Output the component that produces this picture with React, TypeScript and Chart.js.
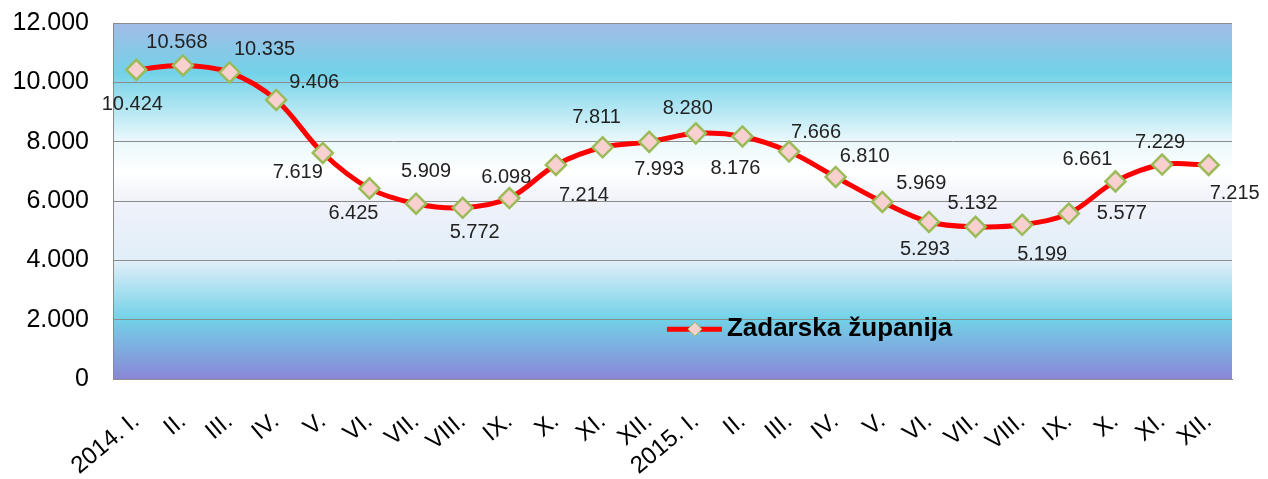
import React, { useEffect, useRef } from "react";
import { Chart, registerables } from "chart.js";

Chart.register(...registerables);

const categories = [
  "2014. I.", "II.", "III.", "IV.", "V.", "VI.", "VII.", "VIII.", "IX.", "X.", "XI.", "XII.",
  "2015. I.", "II.", "III.", "IV.", "V.", "VI.", "VII.", "VIII.", "IX.", "X.", "XI.", "XII.",
];

const seriesName = "Zadarska županija";

const values = [
  10424, 10568, 10335, 9406, 7619, 6425, 5909, 5772, 6098, 7214, 7811, 7993,
  8280, 8176, 7666, 6810, 5969, 5293, 5132, 5199, 5577, 6661, 7229, 7215,
];

const yTicks = [0, 2000, 4000, 6000, 8000, 10000, 12000];

// label placement offsets (px) relative to each point
const labelDx = [-4, -6, 35, 38, -25, -16, 10, 12, -3, 28, -6, 10, -8, -7, 27, 29, 39, -4, -3, 20, 53, -28, -2, 26];
const labelDy = [35, -23, -23, -17, 20, 25, -32, 25, -21, 30, -30, 28, -25, 32, -19, -20, -18, 28, -23, 30, 0, -22, -22, 29];

const FONT = '"Liberation Sans", Arial, sans-serif';

const fmt = (v: number) => {
  const s = Math.round(v).toString();
  return s.replace(/\B(?=(\d{3})+(?!\d))/g, ".");
};

const bgPlugin = {
  id: "bgGradient",
  beforeDraw(chart: any) {
    const { ctx, chartArea } = chart;
    if (!chartArea) return;
    const { left, top, right, bottom } = chartArea;
    const g = ctx.createLinearGradient(0, top, 0, bottom);
    g.addColorStop(0, "#a3bce6");
    g.addColorStop(0.14, "#72d2e8");
    g.addColorStop(0.33, "#eaf8fc");
    g.addColorStop(0.42, "#ffffff");
    g.addColorStop(0.5, "#f0f2fa");
    g.addColorStop(0.67, "#e0eef8");
    g.addColorStop(0.83, "#72d2e8");
    g.addColorStop(1, "#8a86d8");
    ctx.save();
    ctx.fillStyle = g;
    ctx.fillRect(left, top, right - left, bottom - top);
    ctx.restore();
  },
};

const labelPlugin = {
  id: "pointLabels",
  afterDatasetsDraw(chart: any) {
    const { ctx } = chart;
    const meta = chart.getDatasetMeta(0);
    ctx.save();
    ctx.font = `20px ${FONT}`;
    ctx.fillStyle = "#222";
    ctx.textAlign = "center";
    ctx.textBaseline = "middle";
    meta.data.forEach((pt: any, i: number) => {
      ctx.fillText(fmt(values[i]), pt.x + labelDx[i], pt.y + labelDy[i]);
    });
    ctx.restore();
  },
};

const legendPlugin = {
  id: "customLegend",
  afterDraw(chart: any) {
    const { ctx, chartArea } = chart;
    const w = chartArea.right - chartArea.left;
    const h = chartArea.bottom - chartArea.top;
    const x0 = chartArea.left + w * 0.495;
    const y0 = chartArea.top + h * 0.86;
    ctx.save();
    ctx.strokeStyle = "#ff0000";
    ctx.lineWidth = 5;
    ctx.beginPath();
    ctx.moveTo(x0, y0);
    ctx.lineTo(x0 + 55, y0);
    ctx.stroke();
    const cx = x0 + 28;
    const r = 7;
    ctx.beginPath();
    ctx.moveTo(cx, y0 - r);
    ctx.lineTo(cx + r, y0);
    ctx.lineTo(cx, y0 + r);
    ctx.lineTo(cx - r, y0);
    ctx.closePath();
    ctx.fillStyle = "#f9d0d0";
    ctx.fill();
    ctx.lineWidth = 1;
    ctx.strokeStyle = "#9bbb59";
    ctx.stroke();
    ctx.font = `bold 26px ${FONT}`;
    ctx.fillStyle = "#000";
    ctx.textAlign = "left";
    ctx.textBaseline = "middle";
    ctx.fillText(seriesName, x0 + 60, y0);
    ctx.restore();
  },
};

export default function App() {
  const ref = useRef<HTMLCanvasElement>(null);
  useEffect(() => {
    if (!ref.current) return;
    const chart = new Chart(ref.current, {
      type: "line",
      data: {
        labels: categories,
        datasets: [
          {
            label: seriesName,
            data: values,
            borderColor: "#ff0000",
            borderWidth: 5,
            tension: 0.35,
            pointStyle: "rectRot",
            pointRadius: 10,
            pointBackgroundColor: "#f9d0d0",
            pointBorderColor: "#9bbb59",
            pointBorderWidth: 2.5,
            clip: false as any,
          },
        ],
      },
      options: {
        animation: false,
        responsive: true,
        maintainAspectRatio: false,
        layout: { padding: { top: 23, right: 36, left: 0, bottom: 0 } },
        plugins: { legend: { display: false }, tooltip: { enabled: false } },
        scales: {
          x: {
            offset: true,
            grid: { display: false, drawTicks: false },
            border: { display: true, color: "#8c8c8c", width: 1 },
            ticks: {
              autoSkip: false,
              maxRotation: 40,
              minRotation: 40,
              padding: 28,
              color: "#000",
              font: { family: FONT, size: 24 },
            },
            afterFit(scale: any) {
              scale.height = 100;
              scale.paddingLeft = 0;
              scale.paddingRight = 0;
              scale.paddingTop = 0;
              scale.paddingBottom = 0;
            },
          },
          y: {
            min: 0,
            max: 12000,
            afterBuildTicks(scale: any) {
              scale.ticks = yTicks.map((v) => ({ value: v }));
            },
            grid: { color: "#8c8c8c", lineWidth: 1, drawTicks: false },
            border: { display: true, color: "#8c8c8c", width: 1 },
            ticks: {
              padding: 24,
              color: "#000",
              font: { family: FONT, size: 25 },
              callback: (v: any) => fmt(Number(v)),
            },
            afterFit(scale: any) {
              scale.width = 113;
              scale.paddingTop = 0;
              scale.paddingBottom = 0;
              scale.paddingLeft = 0;
              scale.paddingRight = 0;
            },
          },
        },
      },
      plugins: [bgPlugin, labelPlugin, legendPlugin],
    });
    return () => chart.destroy();
  }, []);
  return (
    <div style={{ position: "absolute", left: 0, top: 0, width: 1268, height: 479, background: "#fff" }}>
      <canvas ref={ref} />
    </div>
  );
}
